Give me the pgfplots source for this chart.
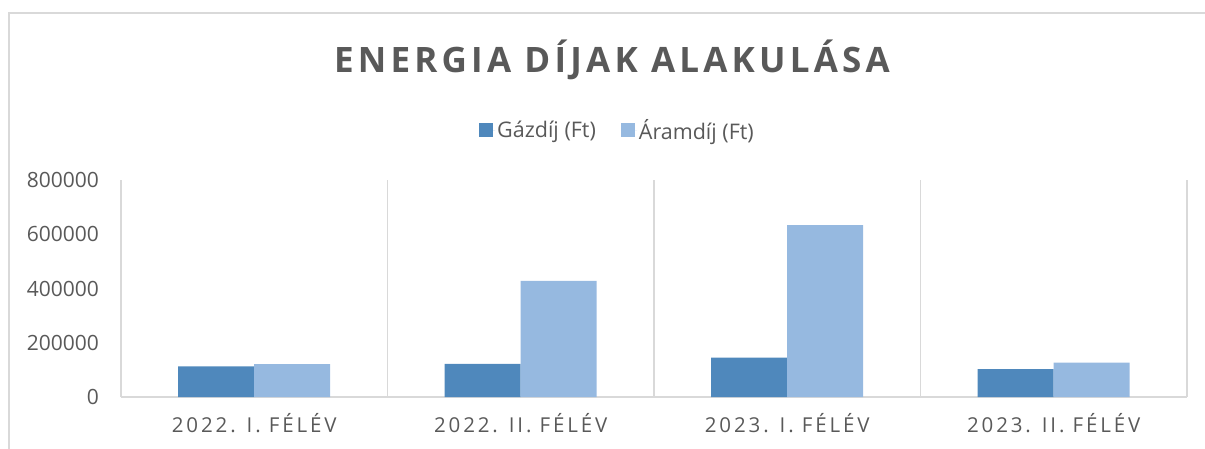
\documentclass[border=0pt]{standalone}
\usepackage{fontspec}
\setmainfont{Open Sans}
\newfontfamily\spaced[LetterSpace=14]{Open Sans}
\newfontfamily\titlespaced[LetterSpace=12]{Open Sans}
\usepackage{pgfplots}
\pgfplotsset{compat=1.18}
\definecolor{gaz}{RGB}{79,136,188}
\definecolor{aram}{RGB}{150,185,224}
\definecolor{txt}{RGB}{89,89,89}
\definecolor{grd}{RGB}{217,217,217}
\begin{document}
\begin{tikzpicture}[x=1pt,y=1pt]
\useasboundingbox (0,0) rectangle (1205,448);
\draw[grd, line width=2pt] (8.5,-5) -- (8.5,434.5) -- (1215,434.5);
\begin{axis}[
  at={(121pt,51pt)}, anchor=south west,
  width=1066pt, height=217pt, scale only axis,
  xmin=-0.5, xmax=3.5, ymin=0, ymax=800000,
  ybar=0pt, bar width=76pt,
  xtick={0,1,2,3},
  xticklabels={2022. I. FÉLÉV, 2022. II. FÉLÉV, 2023. I. FÉLÉV, 2023. II. FÉLÉV},
  minor xtick={-0.5,0.5,1.5,2.5,3.5},
  xminorgrids, minor grid style={grd, line width=1.5pt},
  ytick={0,200000,400000,600000,800000},
  scaled y ticks=false,
  yticklabel={\pgfmathprintnumber[fixed, precision=0, 1000 sep={}, assume math mode=true]{\tick}},
  major tick length=0pt, minor tick length=0pt,
  axis x line*=bottom, axis y line*=left,
  x axis line style={grd, line width=1.5pt},
  y axis line style={draw=none},
  yticklabel style={font=\fontsize{21}{24}\selectfont, color=txt, anchor=east, inner sep=0pt, xshift=-22pt},
  xticklabel style={font=\spaced\fontsize{20.5}{24}\selectfont, color=txt, anchor=base, inner sep=0pt, yshift=-35pt},
  title={\titlespaced\bfseries ENERGIA DÍJAK ALAKULÁSA},
  title style={at={(0.4606,1.47)}, anchor=base, font=\fontsize{35}{40}\selectfont, color=txt, inner sep=0pt},
  legend columns=2,
  legend style={draw=none, at={(0.4658,1.23)}, anchor=center, font=\fontsize{21.5}{24}\selectfont, text=txt, inner sep=0pt,
    /tikz/every even column/.append style={column sep=23pt}},
  legend image code/.code={\path (0pt,0pt) -- (16pt,0pt); \fill[#1, draw=none] (0pt,-7pt) rectangle (14pt,7pt);},
]
\addplot[fill=gaz, draw=none] coordinates {(0,113000) (1,122000) (2,145000) (3,103000)};
\addplot[fill=aram, draw=none] coordinates {(0,121000) (1,428000) (2,634000) (3,127000)};
\legend{Gázdíj (Ft), Áramdíj (Ft)}
\end{axis}
\end{tikzpicture}
\end{document}
